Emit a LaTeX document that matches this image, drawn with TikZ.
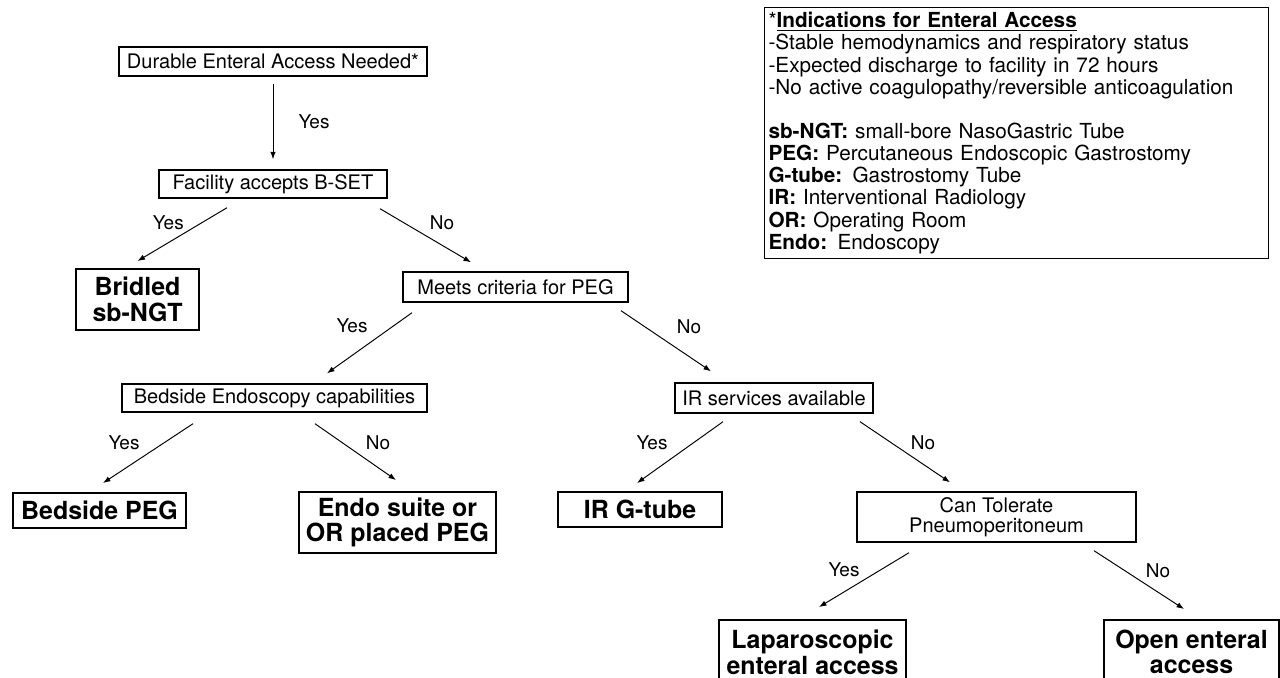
\documentclass[tikz,border=0pt]{standalone}
\usepackage{fontspec}
\setmainfont{TeX Gyre Heros}
\usetikzlibrary{arrows.meta, positioning}
\newdimen\pxu \pxu=0.02cm
\colorlet{colLinea}{black}
\colorlet{colTexto}{black}
\tikzset{
  boxBase/.style={
    draw=colLinea, line width=0.8pt, inner sep=0pt,
    align=center, text=colTexto, fill=white,
    minimum height=29\pxu, font=\fontsize{11.4}{11.6}\selectfont
  },
  boxDecision/.style={boxBase},
  boxOutcome/.style={boxBase, line width=1.1pt,
    font=\fontsize{14.2}{14.6}\selectfont\bfseries},
  boxLegend/.style={draw=colLinea, line width=0.6pt, anchor=north west,
    align=left, inner xsep=4\pxu, inner ysep=0pt,
    font=\fontsize{11.8}{12.6}\selectfont},
  flow/.style={-{Latex[length=1.5mm, width=1.1mm]}, line width=0.55pt, colLinea},
  labelFlow/.style={font=\fontsize{10.8}{12}\selectfont, text=colTexto, inner sep=0pt},
}
\begin{document}
\begin{tikzpicture}[x=0.02cm, y=-0.02cm]
  \useasboundingbox (0,0) rectangle (1280,677);
  \node[boxDecision, minimum width=308\pxu] (need) at (273,61.5) {Durable Enteral Access Needed*};
  \node[boxDecision, minimum width=228\pxu, minimum height=28\pxu] (facility) at (273,184) {Facility accepts B-SET};
  \node[boxOutcome, minimum width=123\pxu, minimum height=61\pxu] (bridled) at (137.5,299.5) {Bridled\\sb-NGT};
  \node[boxDecision, minimum width=225\pxu, minimum height=30\pxu] (meets) at (515.5,287) {Meets criteria for PEG};
  \node[boxDecision, minimum width=305\pxu, minimum height=28\pxu] (bedside) at (274.5,398) {Bedside Endoscopy capabilities};
  \node[boxDecision, minimum width=198\pxu, minimum height=30\pxu] (ir) at (774,398) {IR services available};
  \node[boxOutcome, minimum width=173\pxu, minimum height=35\pxu] (bedpeg) at (99.5,510.5) {Bedside PEG};
  \node[boxOutcome, minimum width=197\pxu, minimum height=61\pxu] (endo) at (397.5,522.5) {Endo suite or\\OR placed PEG};
  \node[boxOutcome, minimum width=164\pxu, minimum height=35\pxu] (irgtube) at (640,509.5) {IR G-tube};
  \node[boxDecision, minimum width=279\pxu, minimum height=50\pxu] (tolerate) at (996.5,517) {Can Tolerate\\Pneumoperitoneum};
  \node[boxOutcome, minimum width=187\pxu, minimum height=64\pxu] (lap) at (812.5,652) {Laparoscopic\\enteral access};
  \node[boxOutcome, minimum width=175\pxu, minimum height=64\pxu] (open) at (1191.5,652) {Open enteral\\access};

  \node[boxLegend, text width=496\pxu, minimum height=251\pxu] (legend) at (764,7) {%
    *\textbf{\underline{Indications for Enteral Access}}\\
    -Stable hemodynamics and respiratory status\\
    -Expected discharge to facility in 72 hours\\
    -No active coagulopathy/reversible anticoagulation\\[12.6pt]
    \textbf{sb-NGT:} small-bore NasoGastric Tube\\
    \textbf{PEG:} Percutaneous Endoscopic Gastrostomy\\
    \textbf{G-tube:} Gastrostomy Tube\\
    \textbf{IR:} Interventional Radiology\\
    \textbf{OR:} Operating Room\\
    \textbf{Endo:} Endoscopy};

  \draw[flow] ([yshift=-7\pxu]need.south) -- ([yshift=10\pxu]facility.north)
    node[labelFlow, midway, xshift=41\pxu]{Yes};
  \draw[flow] ([xshift=-46\pxu, yshift=-9\pxu]facility.south) -- ([yshift=7\pxu]bridled.north)
    node[labelFlow, midway, xshift=-14\pxu, yshift=11.5\pxu]{Yes};
  \draw[flow] ([xshift=107\pxu, yshift=-10\pxu]facility.south) -- ([xshift=-44.5\pxu, yshift=9\pxu]meets.north)
    node[labelFlow, midway, xshift=16.5\pxu, yshift=12.5\pxu]{No};
  \draw[flow] ([xshift=-103.5\pxu, yshift=-10\pxu]meets.south) -- ([xshift=52.5\pxu, yshift=10\pxu]bedside.north)
    node[labelFlow, midway, xshift=-17.5\pxu, yshift=17\pxu]{Yes};
  \draw[flow] ([xshift=105.5\pxu, yshift=-8\pxu]meets.south) -- ([xshift=-63\pxu, yshift=11\pxu]ir.north)
    node[labelFlow, midway, xshift=23\pxu, yshift=14\pxu]{No};
  \draw[flow] ([xshift=-81.5\pxu, yshift=-11\pxu]bedside.south) -- ([xshift=3.5\pxu, yshift=9\pxu]bedpeg.north)
    node[labelFlow, midway, xshift=-24\pxu, yshift=10.5\pxu]{Yes};
  \draw[flow] ([xshift=40.5\pxu, yshift=-11\pxu]bedside.south) -- ([xshift=-1.5\pxu, yshift=11\pxu]endo.north)
    node[labelFlow, midway, xshift=22.5\pxu, yshift=9\pxu]{No};
  \draw[flow] ([xshift=-51\pxu, yshift=-8\pxu]ir.south) -- ([xshift=-3\pxu, yshift=8\pxu]irgtube.north)
    node[labelFlow, midway, xshift=-28\pxu, yshift=9.5\pxu]{Yes};
  \draw[flow] ([xshift=86\pxu, yshift=-8\pxu]ir.south) -- ([xshift=-46.5\pxu, yshift=9\pxu]tolerate.north)
    node[labelFlow, midway, xshift=18\pxu, yshift=9\pxu]{No};
  \draw[flow] ([xshift=-87.5\pxu, yshift=-10\pxu]tolerate.south) -- ([xshift=6.5\pxu, yshift=12\pxu]lap.north)
    node[labelFlow, midway, xshift=-20\pxu, yshift=10\pxu]{Yes};
  \draw[flow] ([xshift=97.5\pxu, yshift=-8\pxu]tolerate.south) -- ([xshift=-7.5\pxu, yshift=10\pxu]open.north)
    node[labelFlow, midway, xshift=19\pxu, yshift=9\pxu]{No};
\end{tikzpicture}
\end{document}
